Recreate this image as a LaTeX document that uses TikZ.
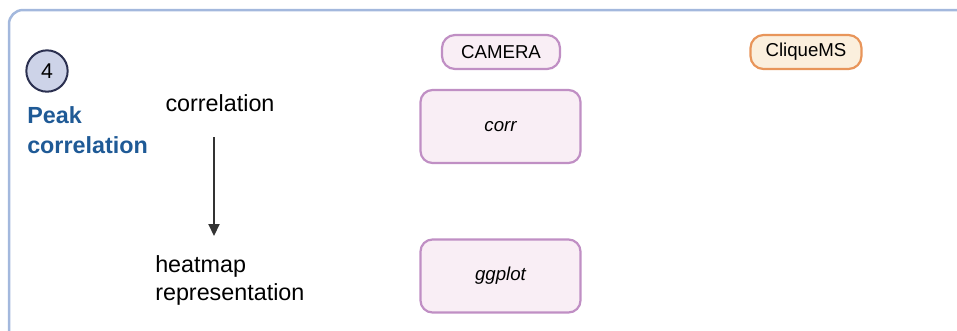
\documentclass[tikz,border=0pt]{standalone}
\usepackage{fontspec}
\setmainfont{Liberation Sans}
\usetikzlibrary{arrows.meta}
\definecolor{framec}{HTML}{A3B8DD}
\definecolor{navy}{HTML}{2B3050}
\definecolor{circfill}{HTML}{CDD3E8}
\definecolor{titleblue}{HTML}{1F5A96}
\definecolor{purpborder}{HTML}{C08FC4}
\definecolor{purpfill}{HTML}{F9EEF5}
\definecolor{orborder}{HTML}{E8955A}
\definecolor{orfill}{HTML}{FBEFDD}
\definecolor{arrowc}{HTML}{333333}
\tikzset{
  toolpill/.style={draw=#1, line width=1.65pt, rounded corners=9.75pt, minimum height=25.5pt, inner xsep=0pt, font=\fontsize{14}{16}\selectfont},
  funcbox/.style={draw=purpborder, fill=purpfill, line width=1.65pt, rounded corners=9pt, minimum width=120pt, minimum height=54.75pt, font=\fontsize{14}{17}\selectfont\itshape},
  steplabel/.style={font=\fontsize{17.5}{21.5}\selectfont, align=left, inner sep=0pt},
  flowarrow/.style={draw=arrowc, line width=1.5pt, -{Triangle[length=9pt,width=8.25pt]}}
}
\begin{document}
\begin{tikzpicture}[x=0.75pt,y=-0.75pt]
\useasboundingbox (0,0) rectangle (957,330);
\clip (0,0) rectangle (957,330);
\draw[framec, line width=1.875pt, rounded corners=10.5pt] (9,10) rectangle (990,360);
\node[circle, draw=navy, fill=circfill, line width=1.5pt, minimum size=31pt, inner sep=0pt, font=\fontsize{16}{18}\selectfont] (num) at (47,71) {4};
\node[anchor=north west, inner sep=0pt, align=left, text=titleblue, font=\fontsize{17.5}{22.5}\selectfont\bfseries] (title) at (27,106) {Peak\\correlation};
\node[steplabel, anchor=center] (corrstep) at (220,103) {correlation};
\node[steplabel, anchor=north west] (heat) at (155,255) {heatmap\\representation};
\coordinate (arrowtop) at (214,137);
\coordinate (arrowend) at (214,236);
\draw[flowarrow] (arrowtop) -- (arrowend);
\node[toolpill=purpborder, fill=purpfill, minimum width=88.5pt] (camera) at (501,52) {CAMERA};
\node[toolpill=orborder, fill=orfill, minimum width=83.25pt] (cliquems) at (806,52) {CliqueMS};
\node[funcbox] (corr) at (500.5,126.5) {corr};
\node[funcbox] (ggplot) at (500.5,276) {ggplot};
\end{tikzpicture}
\end{document}
